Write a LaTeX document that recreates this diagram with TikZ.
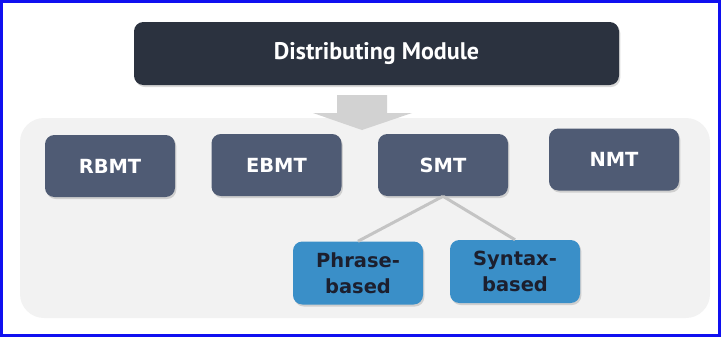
\documentclass[tikz,border=0pt]{standalone}
\usepackage{fontspec}
\newfontfamily\headfont{PT Sans}
\newfontfamily\boxfont{DejaVu Sans}
\usetikzlibrary{positioning,calc,shadows}
\definecolor{frameblue}{HTML}{1010F0}
\definecolor{panelgray}{HTML}{F2F2F2}
\definecolor{headdark}{HTML}{2B323F}
\definecolor{slate}{HTML}{4F5B74}
\definecolor{skyblue}{HTML}{3A8FC8}
\definecolor{inkdark}{HTML}{1C1F2E}
\definecolor{arrowgray}{HTML}{D2D2D2}
\definecolor{linkgray}{HTML}{C4C4C4}
\tikzset{
  shade/.style={drop shadow={shadow xshift=1pt,shadow yshift=-1.5pt,opacity=0.3}},
  headbox/.style={shade,fill=headdark,rounded corners=7pt,text=white,minimum width=363.75pt,minimum height=47.25pt,font=\headfont\bfseries\fontsize{18}{21}\selectfont},
  mtbox/.style={shade,fill=slate,rounded corners=7pt,text=white,minimum width=97.5pt,minimum height=46.5pt,font=\boxfont\bfseries\fontsize{14.6}{18}\selectfont},
  subbox/.style={shade,fill=skyblue,rounded corners=7pt,text=inkdark,align=center,minimum width=97.5pt,minimum height=47.25pt,font=\boxfont\bfseries\fontsize{14.6}{19.5}\selectfont},
  link/.style={draw=linkgray,line width=2.25pt}
}
\begin{document}
\begin{tikzpicture}[x=0.75pt,y=-0.75pt]
\useasboundingbox (0,0) rectangle (721,337);
\draw[frameblue,line width=2.5pt] (1.5,1.5) rectangle (719.5,335.5);
\fill[panelgray,rounded corners=18pt] (20,118) rectangle (710,318);
\node[headbox] (distrib) at (376.5,53.5) {Distributing Module};
% down arrow
\fill[arrowgray] (337,95) -- (387,95) -- (387,113) -- (412,113) -- (362,130) -- (313,113) -- (337,113) -- cycle;
\node[mtbox] (RBMT) at (110,166) {RBMT};
\node[mtbox] (EBMT) at (276.5,165) {EBMT};
\node[mtbox] (SMT) at (443,165) {SMT};
\node[mtbox] (NMT) at (614,159.5) {NMT};
\node[subbox] (phrase) at (358,273) {Phrase-\\based};
\node[subbox] (syntax) at (515,271.5) {Syntax-\\based};
\draw[link] (SMT.south) -- (phrase.north);
\draw[link] (SMT.south) -- (syntax.north);
\end{tikzpicture}
\end{document}
